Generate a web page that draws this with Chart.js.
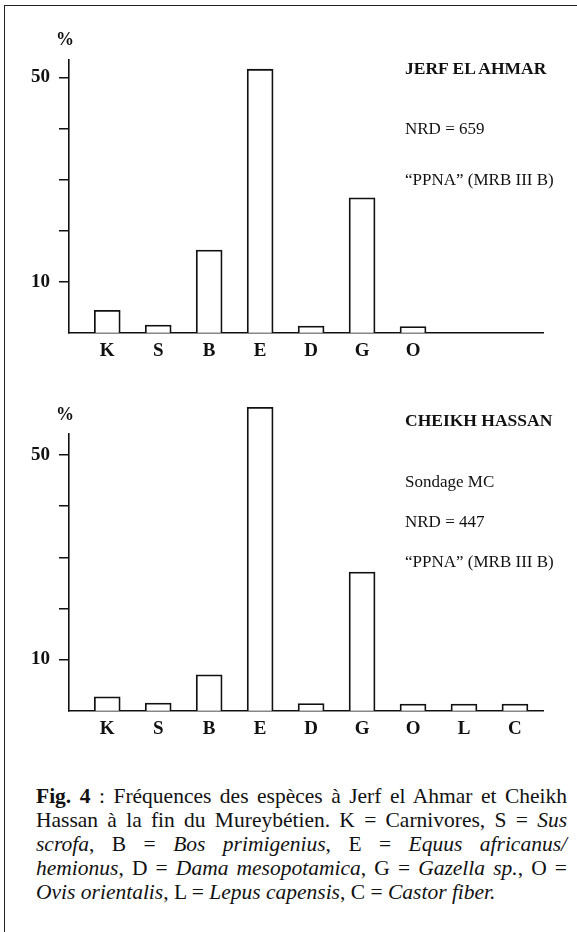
<!DOCTYPE html>
<html>
<head>
<meta charset="utf-8">
<script src="https://cdn.jsdelivr.net/npm/chart.js@4/dist/chart.umd.min.js"></script>
<style>
  html, body { margin: 0; padding: 0; background: #fff; }
  body { width: 577px; height: 932px; position: relative; overflow: hidden;
         font-family: "Liberation Serif", "Times New Roman", serif; color: #111; }
  #frame { position: absolute; left: 4px; top: 5px; width: 580px; height: 940px;
           border-top: 1.5px solid #222; border-left: 1.5px solid #222; }
  canvas { position: absolute; left: 0; }
  .note { position: absolute; left: 405px; font-size: 17px; white-space: nowrap; line-height: 1; }
  .site { font-weight: bold; font-size: 17.5px; }
  .pct { position: absolute; left: 56px; font-size: 18px; font-weight: bold; line-height: 1; }
  #caption { position: absolute; left: 36px; width: 531px; top: 784px; font-size: 21.5px; line-height: 24px; }
  #caption div { text-align: justify; text-align-last: justify; white-space: nowrap; }
  #caption div.last { text-align-last: left; }
</style>
</head>
<body>
<div id="frame"></div>

<canvas id="jerf" width="577" height="360" style="top:0"></canvas>
<canvas id="cheikh" width="577" height="370" style="top:370px"></canvas>

<div class="pct" style="top:30px">%</div>
<div class="pct" style="top:405px">%</div>

<div class="note site" style="top:60px">JERF EL AHMAR</div>
<div class="note" style="top:120px">NRD = 659</div>
<div class="note" style="top:171px">“PPNA” (MRB III B)</div>

<div class="note site" style="top:412px">CHEIKH HASSAN</div>
<div class="note" style="top:473px">Sondage MC</div>
<div class="note" style="top:513px">NRD = 447</div>
<div class="note" style="top:553px">“PPNA” (MRB III B)</div>

<div id="caption">
  <div><b>Fig. 4</b> : Fréquences des espèces à Jerf el Ahmar et Cheikh</div>
  <div>Hassan à la fin du Mureybétien. K = Carnivores, S = <i>Sus</i></div>
  <div><i>scrofa</i>, B = <i>Bos primigenius</i>, E = <i>Equus africanus/</i></div>
  <div><i>hemionus</i>, D = <i>Dama mesopotamica</i>, G = <i>Gazella sp.</i>, O =</div>
  <div class="last"><i>Ovis orientalis</i>, L = <i>Lepus capensis</i>, C = <i>Castor fiber.</i></div>
</div>

<script>
// species codes, in the order of the x axis
const categories = ['K', 'S', 'B', 'E', 'D', 'G', 'O', 'L', 'C'];

// % of NRD
const jerfValues = [4.4, 1.5, 16.2, 51.6, 1.3, 26.4, 1.2];
const cheikhValues = [2.7, 1.5, 7.0, 59.3, 1.4, 27.1, 1.3, 1.3, 1.3];

// y ticks (only 10 and 50 carry a label)
const yTicks = [10, 20, 30, 40, 50];
const yTickLabels = ['10', '', '', '', '50'];

const ink = '#111';
const serif = 'Liberation Serif';

//squeeze caption lines that are wider than the box
document.querySelectorAll('#caption div').forEach(function(line){
    var ls = 0;
    while (line.scrollWidth > line.clientWidth && ls > -1.5) {
        ls -= 0.1;
        line.style.letterSpacing = ls + 'px';
    }
});

function makeChart(id, values, yMax, padTop, xHeight) {
    var ctx = document.getElementById(id).getContext('2d');
    return new Chart(ctx, {
        type: 'bar',
        data: {
            datasets: [{
                data: values.map(function(v, i){ return {x: i + 1, y: v}; }),
                backgroundColor: '#fff',
                borderColor: ink,
                borderWidth: 1.8,
                barThickness: 26,
                clip: false
            }]
        },
        options: {
            responsive: false,
            animation: false,
            devicePixelRatio: 1,
            layout: { padding: { top: padTop, right: 34, left: 0, bottom: 0 } },
            plugins: { legend: { display: false }, tooltip: { enabled: false } },
            scales: {
                x: {
                    type: 'linear',
                    offset: false,
                    min: 0.25,
                    max: 9.55,
                    grid: { display: false, drawTicks: false },
                    border: { color: ink, width: 1.6 },
                    afterBuildTicks: function(scale){
                        scale.ticks = values.map(function(v, i){ return {value: i + 1}; });
                    },
                    afterFit: function(scale){ scale.height = xHeight; },
                    ticks: {
                        autoSkip: false,
                        maxRotation: 0,
                        padding: 7,
                        color: ink,
                        font: { family: serif, size: 19, weight: 'bold' },
                        callback: function(v){ return categories[v - 1]; }
                    }
                },
                y: {
                    min: 0,
                    max: yMax,
                    grid: { drawOnChartArea: false, drawTicks: true, tickLength: 10, color: ink, lineWidth: 1.5 },
                    border: { color: ink, width: 1.6 },
                    afterBuildTicks: function(scale){
                        scale.ticks = yTicks.map(function(v){ return {value: v}; });
                    },
                    afterFit: function(scale){ scale.width = 69; },
                    ticks: {
                        padding: 9,
                        color: ink,
                        font: { family: serif, size: 19, weight: 'bold' },
                        callback: function(v){ return yTickLabels[yTicks.indexOf(v)]; }
                    }
                }
            }
        }
    });
}

makeChart('jerf', jerfValues, 53.4, 60, 27.3);
makeChart('cheikh', cheikhValues, 54.1, 64, 29.3);
</script>
</body>
</html>
